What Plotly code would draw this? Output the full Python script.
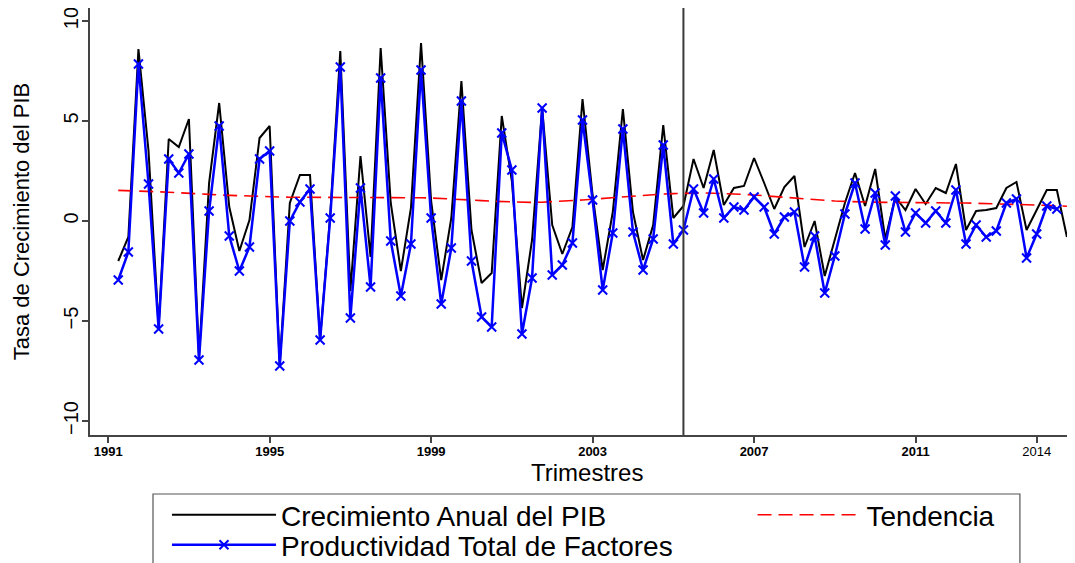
import pandas as pd
import plotly.graph_objects as go

# ---------------- data ----------------
start_quarter = "1991Q2"
break_quarter = "2005Q2"

gdp_growth = [
    -2.0, -0.8, 8.6, 3.5, -5.3, 4.1, 3.7, 5.1, -6.8, 1.9,
    5.9, 0.7, -1.5, 0.05, 4.15, 4.75, -7.2, 0.9, 2.3, 2.3,
    -5.9, 0.3, 8.5, -3.5, 3.25, -1.8, 8.65, 0.9, -2.5, 0.65,
    8.9, 1.0, -2.95, 0.15, 7.0, -0.45, -3.1, -2.6, 5.25, 2.0,
    -4.35, -0.95, 5.65, -0.2, -1.65, -0.3, 6.1, 1.3, -2.45, 0.45,
    5.6, 0.45, -1.95, -0.2, 4.8, 0.15, 0.75, 3.1, 1.65, 3.55,
    0.8, 1.65, 1.75, 3.15, 1.9, 0.6, 1.7, 2.25, -1.3, 0.0,
    -2.75, -0.9, 0.9, 2.4, 0.75, 2.6, -0.9, 1.2, 0.55, 1.6,
    0.85, 1.65, 1.4, 2.85, -0.45, 0.5, 0.55, 0.65, 1.65, 1.95,
    -0.45, 0.55, 1.55, 1.55, -0.8,
]

tfp_growth = [
    -2.95, -1.55, 7.85, 1.85, -5.4, 3.1, 2.4, 3.35, -6.95, 0.5,
    4.75, -0.75, -2.5, -1.3, 3.1, 3.5, -7.25, 0.0, 0.95, 1.6,
    -5.95, 0.15, 7.7, -4.85, 1.65, -3.3, 7.15, -1.0, -3.75, -1.15,
    7.55, 0.15, -4.15, -1.35, 6.0, -2.0, -4.8, -5.3, 4.4, 2.55,
    -5.65, -2.85, 5.65, -2.7, -2.2, -1.1, 5.05, 1.05, -3.45, -0.6,
    4.6, -0.55, -2.45, -0.9, 3.8, -1.15, -0.45, 1.6, 0.4, 2.1,
    0.15, 0.7, 0.55, 1.2, 0.7, -0.65, 0.2, 0.45, -2.3, -0.75,
    -3.6, -1.75, 0.35, 1.9, -0.4, 1.4, -1.2, 1.25, -0.55, 0.4,
    -0.1, 0.5, -0.1, 1.55, -1.15, -0.2, -0.8, -0.5, 0.9, 1.1,
    -1.85, -0.65, 0.75, 0.6,
]

trend = [
    1.53, 1.52, 1.50, 1.48, 1.46, 1.44, 1.42, 1.39, 1.36, 1.33,
    1.30, 1.28, 1.25, 1.23, 1.22, 1.21, 1.20, 1.19, 1.19, 1.18,
    1.18, 1.18, 1.18, 1.18, 1.18, 1.18, 1.18, 1.17, 1.17, 1.16,
    1.16, 1.15, 1.13, 1.11, 1.08, 1.05, 1.02, 0.99, 0.97, 0.95,
    0.93, 0.93, 0.94, 0.96, 0.99, 1.02, 1.05, 1.09, 1.13, 1.17,
    1.21, 1.25, 1.29, 1.32, 1.35, 1.37, 1.39, 1.40, 1.40, 1.39,
    1.38, 1.36, 1.33, 1.30, 1.26, 1.22, 1.18, 1.14, 1.10, 1.06,
    1.03, 1.00, 0.98, 0.96, 0.95, 0.94, 0.93, 0.93, 0.92, 0.92,
    0.92, 0.91, 0.91, 0.90, 0.90, 0.89, 0.88, 0.87, 0.86, 0.84,
    0.82, 0.80, 0.78, 0.76, 0.74,
]

tick_years = [1991, 1995, 1999, 2003, 2007, 2011, 2014]
tick_labels = ["1991", "1995", "1999", "2003", "2007", "2011", "2014"]
bold_ticks = [True, True, True, True, True, True, False]
y_ticks = [-10, -5, 0, 5, 10]

# ---------------- helpers ----------------
def q_to_num(p):
    return p.year + (p.quarter - 1) / 4.0

periods = pd.period_range(start_quarter, periods=len(gdp_growth), freq="Q")
x_all = [q_to_num(p) for p in periods]
x_tfp = x_all[:len(tfp_growth)]
x_trend = x_all[:len(trend)]
x_break = q_to_num(pd.Period(break_quarter, freq="Q"))

FONT = "Liberation Sans, Arial, sans-serif"

fig = go.Figure()

fig.add_trace(go.Scatter(
    x=x_all, y=gdp_growth, mode="lines",
    name="Crecimiento Anual del PIB",
    line=dict(color="black", width=2),
    legend="legend",
))
fig.add_trace(go.Scatter(
    x=x_trend, y=trend, mode="lines",
    name="Tendencia",
    line=dict(color="red", width=1.6, dash="14px,7px"),
    legend="legend2",
))
fig.add_trace(go.Scatter(
    x=x_tfp, y=tfp_growth, mode="lines+markers",
    name="Productividad Total de Factores",
    line=dict(color="#0000ff", width=2.5),
    marker=dict(symbol="x-thin", size=9, line=dict(color="#0000ff", width=2)),
    legend="legend3",
))

fig.add_vline(x=x_break, line=dict(color="#3a3a3a", width=2))

# legend frame
fig.add_shape(type="rect", xref="paper", yref="paper",
              x0=0.0641, x1=0.946, y0=-0.33, y1=-0.1382,
              line=dict(color="#555555", width=1.2), fillcolor="rgba(0,0,0,0)",
              layer="below")

# x-axis title placed as annotation
fig.add_annotation(text="Trimestres", xref="paper", yref="paper",
                   x=0.5056, y=-0.0867, xanchor="center", yanchor="middle",
                   showarrow=False, font=dict(family=FONT, size=24, color="black"))

tick_text = [f"<b>{t}</b>" if b else t for t, b in zip(tick_labels, bold_ticks)]

leg_common = dict(font=dict(family=FONT, size=28, color="black"),
                  bgcolor="rgba(0,0,0,0)", borderwidth=0, itemwidth=104,
                  xanchor="left", yanchor="middle", orientation="v",
                  itemclick=False, itemdoubleclick=False)

fig.update_layout(
    width=1067, height=555,
    margin=dict(l=82, r=2, t=0, b=128, autoexpand=False),
    paper_bgcolor="white", plot_bgcolor="white",
    font=dict(family=FONT, color="black"),
    showlegend=True,
    legend=dict(x=0.0783, y=-0.1874, **leg_common),
    legend2=dict(x=0.674, y=-0.1874, **leg_common),
    legend3=dict(x=0.0783, y=-0.2576, **leg_common),
    xaxis=dict(
        range=[1990.55, 2014.9], showgrid=False, zeroline=False, automargin=False,
        showline=True, linecolor="#444444", linewidth=1.5,
        tickmode="array", tickvals=tick_years, ticktext=tick_text,
        ticks="outside", ticklen=6, tickwidth=1.5, tickcolor="#444444",
        ticklabelstandoff=-2,
        tickfont=dict(family=FONT, size=13, color="black"),
    ),
    yaxis=dict(
        range=[-10.7, 10.65], showgrid=False, zeroline=False, automargin=False,
        showline=True, linecolor="#444444", linewidth=1.5,
        tickmode="array", tickvals=y_ticks,
        ticks="outside", ticklen=6, tickwidth=1.5, tickcolor="#444444",
        tickangle=-90, ticklabelstandoff=-4, ticklabeloverflow="allow",
        tickfont=dict(family=FONT, size=20, color="black"),
        title=dict(text="Tasa de Crecimiento del PIB",
                   font=dict(family=FONT, size=22, color="black"), standoff=25),
    ),
)

fig.write_html("out.html")
